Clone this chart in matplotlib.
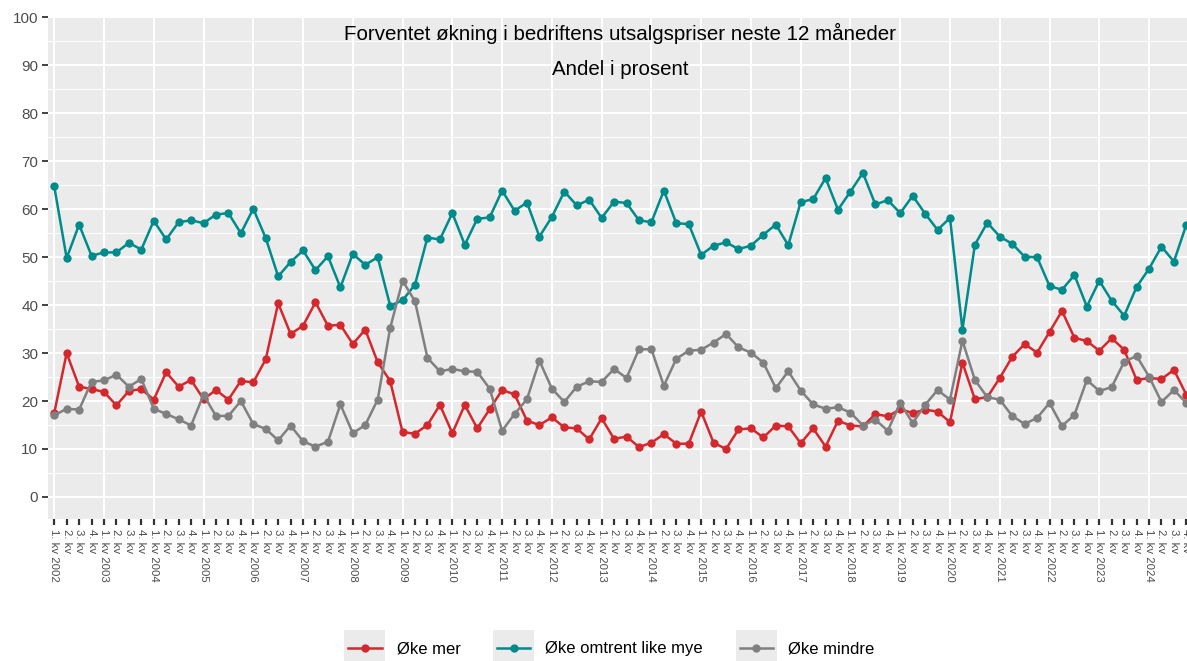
import numpy as np
import matplotlib
matplotlib.use("Agg")
import matplotlib.pyplot as plt
from matplotlib.patches import Rectangle

plt.rcParams['font.family'] = ['Liberation Sans', 'DejaVu Sans']

years = list(range(2002, 2025))
quarters = ["1. kv", "2. kv", "3. kv", "4. kv"]
labels = []
for y in years:
    for q in quarters:
        labels.append(q + " " + str(y) if q == "1. kv" else q)

oke_mer = [
    17.5, 30.0, 23.0, 22.5, 21.9, 19.1, 22.1, 22.5, 20.3, 26.0, 23.0, 24.4,
    20.4, 22.3, 20.3, 24.2, 23.9, 28.7, 40.4, 34.0, 35.7, 40.6, 35.7, 35.9,
    31.9, 34.9, 28.1, 24.2, 13.5, 13.2, 15.0, 19.2, 13.3, 19.2, 14.3, 18.3,
    22.3, 21.4, 15.9, 15.0, 16.6, 14.5, 14.3, 12.0, 16.4, 12.1, 12.6, 10.4,
    11.3, 13.1, 11.1, 11.1, 17.8, 11.3, 10.0, 14.1, 14.3, 12.4, 14.9, 14.7,
    11.2, 14.3, 10.5, 15.9, 14.9, 14.7, 17.3, 16.8, 18.3, 17.5, 18.2, 17.8,
    15.6, 28.0, 20.4, 20.8, 24.8, 29.2, 31.9, 30.1, 34.4, 38.8, 33.2, 32.5,
    30.5, 33.1, 30.7, 24.4, 24.8, 24.6, 26.5, 21.3,
]
oke_like = [
    64.8, 49.8, 56.8, 50.3, 51.0, 51.0, 53.0, 51.6, 57.6, 53.7, 57.3, 57.7,
    57.1, 58.9, 59.2, 55.0, 60.1, 54.0, 46.0, 49.0, 51.4, 47.3, 50.2, 43.7,
    50.7, 48.4, 50.0, 39.9, 41.0, 44.3, 54.1, 53.7, 59.2, 52.6, 58.0, 58.3,
    63.9, 59.7, 61.4, 54.3, 58.4, 63.7, 60.8, 62.0, 58.2, 61.6, 61.3, 57.7,
    57.3, 63.9, 57.1, 56.9, 50.5, 52.4, 53.1, 51.7, 52.4, 54.7, 56.8, 52.5,
    61.5, 62.1, 66.5, 59.9, 63.7, 67.6, 61.0, 61.9, 59.2, 62.8, 59.1, 55.7,
    58.2, 34.9, 52.6, 57.2, 54.3, 52.8, 50.1, 50.0, 44.0, 43.2, 46.3, 39.7,
    45.1, 40.9, 37.8, 43.8, 47.6, 52.2, 49.1, 56.8,
]
oke_mindre = [
    17.0, 18.4, 18.2, 24.0, 24.3, 25.5, 23.0, 24.6, 18.4, 17.3, 16.2, 14.9,
    21.3, 16.9, 16.9, 20.0, 15.2, 14.2, 11.8, 14.9, 11.6, 10.5, 11.5, 19.3,
    13.3, 15.0, 20.3, 35.2, 45.1, 40.8, 29.0, 26.2, 26.7, 26.2, 26.1, 22.6,
    13.8, 17.3, 20.4, 28.4, 22.6, 19.8, 23.0, 24.1, 24.0, 26.7, 24.8, 30.8,
    30.8, 23.2, 28.8, 30.5, 30.7, 32.2, 34.0, 31.2, 30.1, 28.0, 22.7, 26.2,
    22.2, 19.3, 18.4, 18.7, 17.6, 14.9, 16.1, 13.8, 19.6, 15.4, 19.2, 22.3,
    20.3, 32.6, 24.4, 20.8, 20.3, 16.9, 15.2, 16.5, 19.6, 14.8, 17.1, 24.4,
    22.1, 22.9, 28.2, 29.4, 25.1, 19.8, 22.3, 19.6,
]

series = [
    ("Øke mer", oke_mer, "#d3292e"),
    ("Øke omtrent like mye", oke_like, "#008b8b"),
    ("Øke mindre", oke_mindre, "#808080"),
]

fig = plt.figure(figsize=(11.87, 6.61), dpi=100)
ax = fig.add_axes([48 / 1187, 142 / 661, 1139 / 1187, 502 / 661])
ax.set_facecolor("#ebebeb")

x = np.arange(len(labels))
handles = []
for name, vals, col in series:
    h, = ax.plot(x, vals, color=col, lw=1.8, marker="o", ms=6,
                 markeredgewidth=0, label=name)
    handles.append(h)

ax.set_xlim(-0.5, 91.05)
ax.set_ylim(-4.6, 100.1)

# grid
ax.set_yticks(np.arange(0, 101, 10))
for v in np.arange(0, 101, 10):
    ax.axhline(v, color="white", lw=1.5, zorder=0.5)
for v in np.arange(5, 100, 10):
    ax.axhline(v, color="white", lw=0.7, zorder=0.5)
for i in range(0, len(labels), 4):
    ax.axvline(i, color="white", lw=1.5, zorder=0.5)

ax.set_xticks(x)
ax.set_xticklabels(labels, rotation=-90, fontsize=8.2, color="#4d4d4d",
                   va="top", ha="center")
ax.tick_params(axis="x", length=4, width=1.6, color="#333333", pad=3)
ax.tick_params(axis="y", which="major", length=4, width=1.3, color="#333333",
               labelsize=11, labelcolor="#4d4d4d", pad=3)
for s in ax.spines.values():
    s.set_visible(False)

ax.text(45.5, 96.7, "Forventet økning i bedriftens utsalgspriser neste 12 måneder",
        ha="center", va="center", fontsize=14.8, color="black")
ax.text(45.5, 89.2, "Andel i prosent", ha="center", va="center",
        fontsize=14.8, color="black")

leg = fig.legend(handles=handles, loc="center", bbox_to_anchor=(0.515, 1 - 649 / 661),
                 ncol=3, frameon=False, fontsize=12, handlelength=2.0,
                 handletextpad=0.9, columnspacing=2.2)
fig.canvas.draw()
r = fig.canvas.get_renderer()
for lh in leg.legend_handles:
    bb = lh.get_window_extent(r)
    cx = (bb.x0 + bb.x1) / 2
    cy = (bb.y0 + bb.y1) / 2
    w, hgt = 41, 36
    rect = Rectangle(((cx - w / 2) / 1187, (cy - hgt / 2) / 661), w / 1187, hgt / 661,
                     transform=fig.transFigure, facecolor="#ebebeb",
                     edgecolor="none", zorder=-1)
    fig.patches.append(rect)

fig.savefig("out.png", dpi=100)
